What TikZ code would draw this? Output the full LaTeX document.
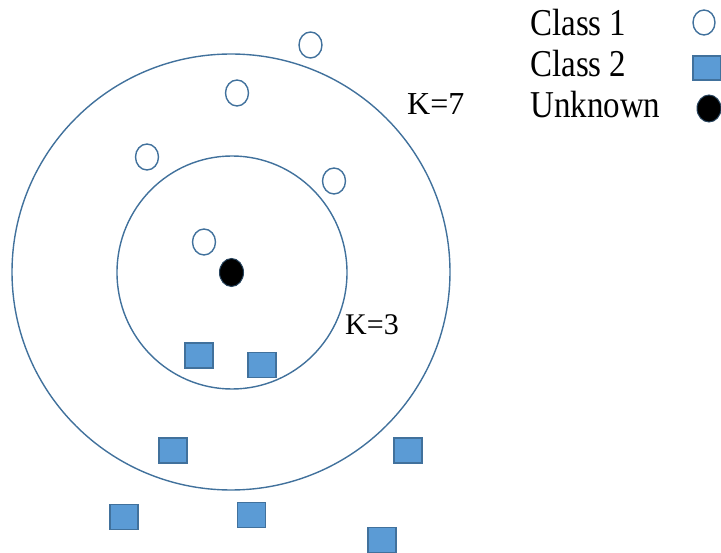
\documentclass[tikz,border=0pt]{standalone}
\usepackage{fontspec}
\setmainfont{Liberation Serif}
\usetikzlibrary{shapes.geometric}
\definecolor{edge}{HTML}{41719C}
\definecolor{fillb}{HTML}{5B9BD5}
\begin{document}
\begin{tikzpicture}[x=1pt,y=-1pt,
  ring/.style={ellipse,draw=edge,line width=1.4pt,inner sep=0pt},
  cls1/.style={ellipse,draw=edge,line width=1.4pt,fill=white,inner sep=0pt,minimum width=23pt,minimum height=26pt},
  cls2/.style={rectangle,draw=edge,line width=1.2pt,fill=fillb,inner sep=0pt,minimum width=28pt,minimum height=25pt},
  unk/.style={ellipse,draw=edge!60!black,line width=1pt,fill=black,inner sep=0pt,minimum width=24pt,minimum height=28pt},
  klabel/.style={anchor=base west,inner sep=0pt,font=\fontsize{30}{34}\selectfont},
  legtext/.style={anchor=base west,inner sep=0pt,font=\fontsize{33}{38}\selectfont,yscale=1.15,transform shape}]
\useasboundingbox (0,0) rectangle (721,553);
% rings
\node[ring,minimum width=438pt,minimum height=436pt] (outer) at (231,272) {};
\node[ring,minimum width=230pt,minimum height=233pt] (inner) at (232,272.5) {};
% class 1
\node[cls1] (c1a) at (310.5,45) {};
\node[cls1] (c1b) at (237,93) {};
\node[cls1] (c1c) at (147,157) {};
\node[cls1] (c1d) at (334,181) {};
\node[cls1] (c1e) at (204,242) {};
% unknown
\node[unk] (u) at (231.5,272.5) {};
% class 2
\node[cls2] (s1) at (199,355.5) {};
\node[cls2] (s2) at (262,365) {};
\node[cls2] (s3) at (173,450.5) {};
\node[cls2] (s4) at (408,450.5) {};
\node[cls2] (s5) at (124,517) {};
\node[cls2] (s6) at (251.5,515) {};
\node[cls2] (s7) at (382,540) {};
% K labels
\node[klabel,font=\fontsize{32}{36}\selectfont] (k7) at (407,115) {K=7};
\node[klabel] (k3) at (345,335) {K=3};
% legend
\node[legtext] (l1) at (530,36) {Class 1};
\node[legtext] (l2) at (530,77) {Class 2};
\node[legtext] (l3) at (530,118) {Unknown};
\node[cls1,minimum width=22pt,minimum height=25pt] (m1) at (704,22.5) {};
\node[cls2,minimum height=24pt] (m2) at (707,68) {};
\node[unk,minimum width=24pt,minimum height=27pt] (m3) at (709,108.5) {};
\end{tikzpicture}
\end{document}
